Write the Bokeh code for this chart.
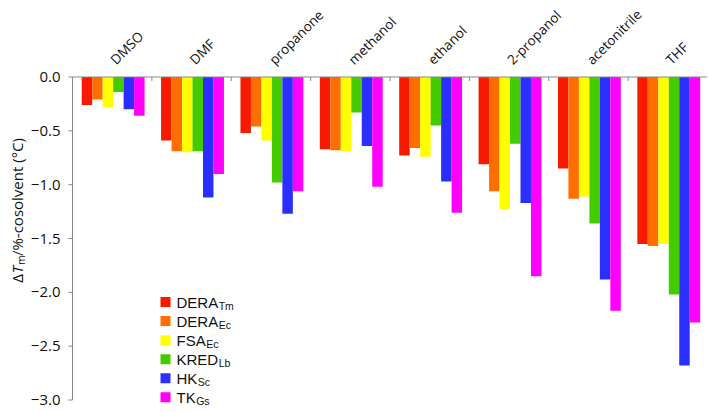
import numpy as np
from bokeh.plotting import figure
from bokeh.models import ColumnDataSource, Range1d
from bokeh.transform import dodge
from bokeh.core.properties import value
from bokeh.embed import file_html
from bokeh.resources import INLINE

# ---------------- data ----------------
categories = ["DMSO", "DMF", "propanone", "methanol", "ethanol",
              "2-propanol", "acetonitrile", "THF"]

series_names = ["DERA", "DERA", "FSA", "KRED", "HK", "TK"]
series_subs = ["Tm", "Ec", "Ec", "Lb", "Sc", "Gs"]
series_keys = ["dera_tm", "dera_ec", "fsa_ec", "kred_lb", "hk_sc", "tk_gs"]
colors = ["#F81A00", "#FF6E00", "#FFFF00", "#44CC00", "#2A2EFF", "#FF00FF"]

dera_tm = [-0.26, -0.59, -0.52, -0.67, -0.73, -0.81, -0.85, -1.55]
dera_ec = [-0.21, -0.69, -0.46, -0.68, -0.66, -1.06, -1.13, -1.57]
fsa_ec = [-0.28, -0.70, -0.59, -0.69, -0.74, -1.23, -1.11, -1.55]
kred_lb = [-0.14, -0.69, -0.98, -0.33, -0.45, -0.62, -1.36, -2.02]
hk_sc = [-0.30, -1.12, -1.27, -0.64, -0.97, -1.17, -1.88, -2.68]
tk_gs = [-0.36, -0.90, -1.06, -1.02, -1.26, -1.85, -2.17, -2.28]

y_ticks = [0.0, -0.5, -1.0, -1.5, -2.0, -2.5, -3.0]
y_tick_labels = ["0.0", "\u22120.5", "\u22121.0", "\u22121.5", "\u22122.0", "\u22122.5", "\u22123.0"]

# ---------------- layout constants ----------------
n = len(categories)
centers = np.arange(n) + 0.5
bounds = np.arange(1, n + 1)
W, H = 707, 410
FRAME_LEFT = 72                      # pixel position of the value axis
cat_px = (W - FRAME_LEFT) / n        # pixels per category
axis_col = "#8a8a8a"
text_col = "#111111"

source = ColumnDataSource(data=dict(
    x=centers, cat=categories,
    dera_tm=dera_tm, dera_ec=dera_ec, fsa_ec=fsa_ec,
    kred_lb=kred_lb, hk_sc=hk_sc, tk_gs=tk_gs))

# the frame covers the whole canvas; both axes are drawn inside it
p = figure(width=W, height=H,
           x_range=Range1d(-FRAME_LEFT / cat_px, n), y_range=Range1d(-3.0975, 0.7105),
           x_axis_location=None, y_axis_location=None,
           output_backend="svg", toolbar_location=None, min_border=0)
p.outline_line_color = None
p.grid.visible = False

# bars
bw = 0.132
for i, (key, col) in enumerate(zip(series_keys, colors)):
    off = (i - 2.5) * bw + 0.012
    p.vbar(x=dodge("x", off, range=p.x_range), top=0, bottom=key, width=bw,
           source=source, fill_color=col, line_color=None)

# category axis at y = 0: line, boundary ticks, rotated labels
p.segment(x0=[0], y0=[0], x1=[n], y1=[0], line_color=axis_col, line_width=1)
p.ray(x=bounds, y=[0] * n, length=4, length_units="screen", angle=-90, angle_units="deg",
      line_color=axis_col, line_width=1)
p.text(x=centers, y=[0] * n, text=categories, angle=45, angle_units="deg",
       x_offset=0.5, y_offset=-15, text_align="left", text_baseline="alphabetic",
       text_font=value("Open Sans"), text_font_size="13.5px", text_color=text_col)

# value axis at x = 0: line, outward ticks, labels
p.segment(x0=[0], y0=[y_ticks[0]], x1=[0], y1=[y_ticks[-1]], line_color=axis_col, line_width=1)
p.ray(x=[0] * len(y_ticks), y=y_ticks, length=4, length_units="screen", angle=180,
      angle_units="deg", line_color=axis_col, line_width=1)
p.text(x=[0] * len(y_ticks), y=y_ticks, text=y_tick_labels, x_offset=-12,
       text_align="right", text_baseline="middle",
       text_font=value("Open Sans"), text_font_size="15px", text_color=text_col)

# value-axis title: Delta, italic T, subscript m, rest (rotated)
title_parts = ["\u0394", "T", "m", "/%-cosolvent (\u00b0C)"]
title_styles = ["normal", "italic", "normal", "normal"]
title_sizes = ["15px", "15px", "10.5px", "15px"]
title_dx = [0, 0, 3.5, 0]
title_dy = [0, -9.3, -17.6, -26.6]
for txt, st, sz, dx, dy in zip(title_parts, title_styles, title_sizes, title_dx, title_dy):
    p.text(x=[0], y=[-1.91], text=[txt], angle=90, angle_units="deg",
           x_offset=16.5 - FRAME_LEFT + dx, y_offset=dy,
           text_align="left", text_baseline="alphabetic",
           text_font=value("Open Sans"), text_font_style=st, text_font_size=sz,
           text_color=text_col)

# legend (manual, to allow subscripts)
arial_w = {"D": 0.722, "E": 0.667, "R": 0.722, "A": 0.667, "F": 0.611,
           "S": 0.667, "K": 0.667, "H": 0.722, "T": 0.611}
leg_fs = 15
leg_x = (165 - FRAME_LEFT) / cat_px
row_y = [-2.09 - 0.177 * i for i in range(len(series_names))]
p.scatter(x=[leg_x] * len(row_y), y=row_y, marker="square", size=10,
          fill_color=colors, line_color=None)
p.text(x=[leg_x] * len(row_y), y=row_y, text=series_names, x_offset=11,
       text_baseline="middle", text_align="left",
       text_font=value("Liberation Sans"), text_font_size="%dpx" % leg_fs,
       text_color=text_col)
sub_off = [11 + sum(arial_w[c] for c in nm) * leg_fs + 0.5 for nm in series_names]
p.text(x=[leg_x] * len(row_y), y=row_y, text=series_subs, x_offset=sub_off,
       y_offset=3.5, text_baseline="middle", text_align="left",
       text_font=value("Liberation Sans"), text_font_size="10.5px",
       text_color=text_col)

open("out.html", "w").write(file_html(p, INLINE))
